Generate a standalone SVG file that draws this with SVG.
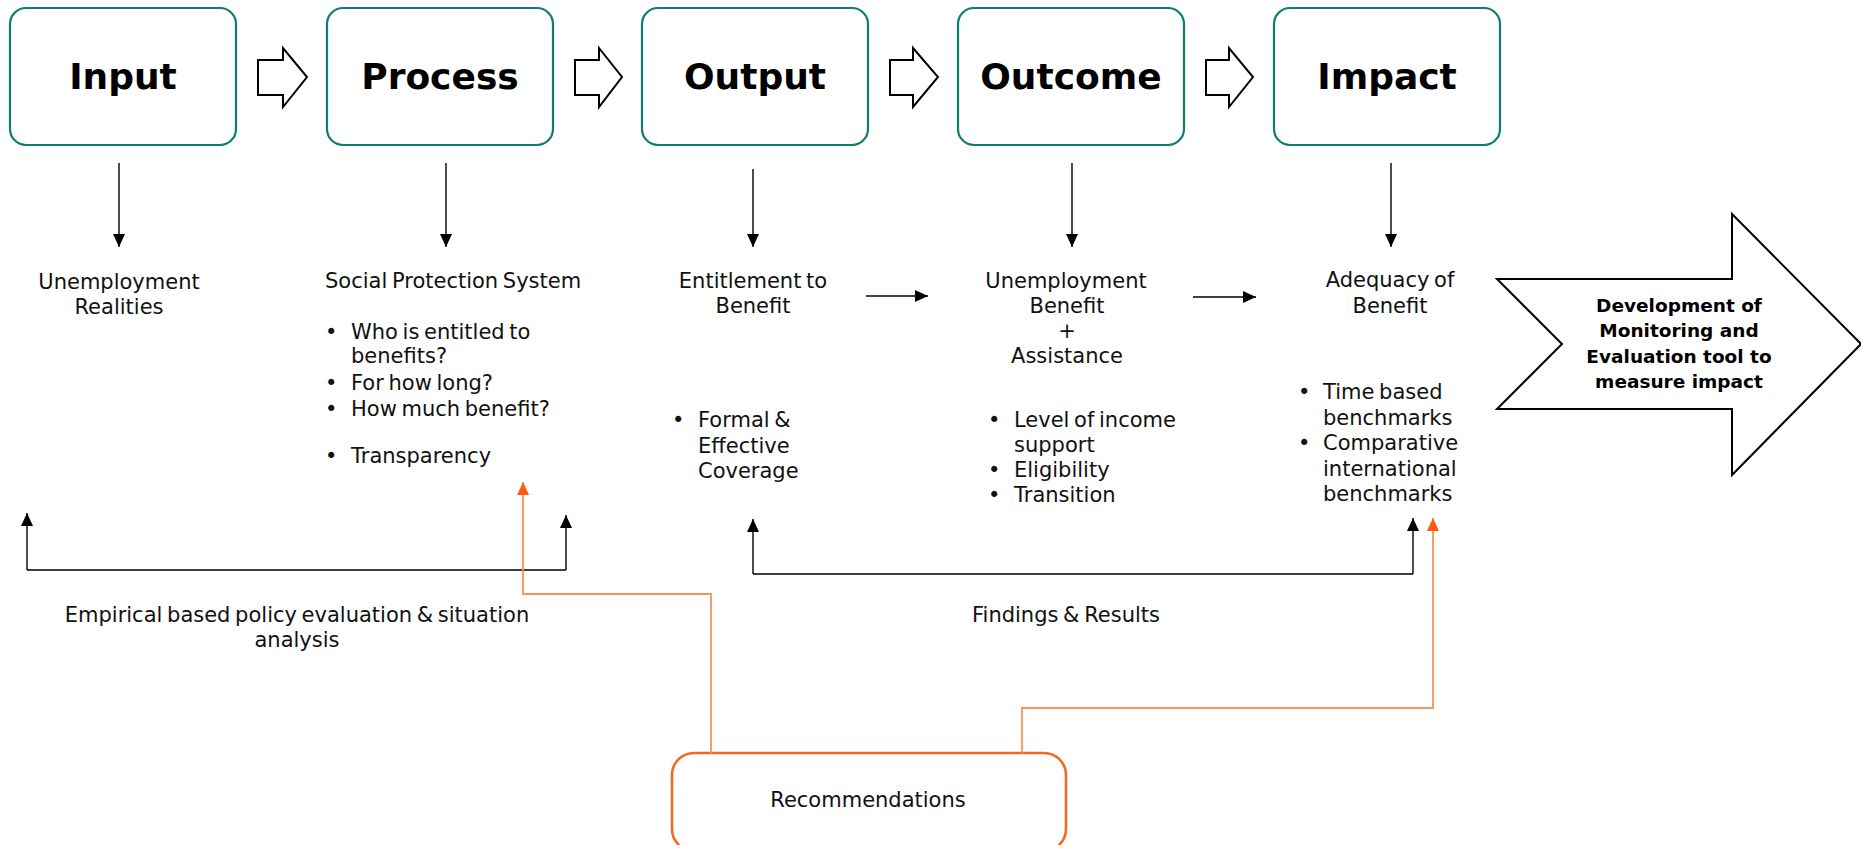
<svg xmlns="http://www.w3.org/2000/svg" width="1861" height="845" viewBox="0 0 1861 845">
  <style>
    .box { fill: #ffffff; stroke: #0f7d70; stroke-width: 2.2; }
    .title { font-family: "DejaVu Sans", "Liberation Sans", sans-serif; font-weight: bold; font-size: 36px; fill: #000; text-anchor: middle; }
    .txt { font-family: "DejaVu Sans", "Liberation Sans", sans-serif; font-size: 21px; fill: #111; word-spacing: -2px; }
    .c { text-anchor: middle; }
    .bold { font-family: "DejaVu Sans", "Liberation Sans", sans-serif; font-weight: bold; font-size: 18.5px; fill: #000; text-anchor: middle; }
    .blk { fill: #ffffff; stroke: #000; stroke-width: 2; stroke-linejoin: miter; }
    .ln { fill: none; stroke: #000; stroke-width: 1.4; }
    .or { fill: none; stroke: #f7935a; stroke-width: 1.8; }
    .recbox { fill: #ffffff; stroke: #f26a21; stroke-width: 2.6; }
  </style>
  <defs>
    <marker id="ah" markerUnits="userSpaceOnUse" markerWidth="13" markerHeight="12" refX="13" refY="6" orient="auto">
      <path d="M0,0 L13,6 L0,12 z" fill="#000"/>
    </marker>
    <marker id="aho" markerUnits="userSpaceOnUse" markerWidth="13" markerHeight="12" refX="13" refY="6" orient="auto">
      <path d="M0,0 L13,6 L0,12 z" fill="#ff5b0a"/>
    </marker>
  </defs>

  <g id="node-input">
    <rect class="box" x="10" y="8" width="226" height="137" rx="16"/>
    <text class="title" x="123" y="89">Input</text>
  </g>
  <g id="node-process">
    <rect class="box" x="327" y="8" width="226" height="137" rx="16"/>
    <text class="title" x="440" y="89">Process</text>
  </g>
  <g id="node-output">
    <rect class="box" x="642" y="8" width="226" height="137" rx="16"/>
    <text class="title" x="755" y="89">Output</text>
  </g>
  <g id="node-outcome">
    <rect class="box" x="958" y="8" width="226" height="137" rx="16"/>
    <text class="title" x="1071" y="89">Outcome</text>
  </g>
  <g id="node-impact">
    <rect class="box" x="1274" y="8" width="226" height="137" rx="16"/>
    <text class="title" x="1387" y="89">Impact</text>
  </g>

  <g id="block-arrows">
    <path class="blk" d="M258,60 H283 V48 L307,77 L283,107 V95 H258 Z"/>
    <path class="blk" d="M575,60 H599 V48 L622,77 L599,107 V95 H575 Z"/>
    <path class="blk" d="M890,60 H913 V48 L938,77 L913,107 V95 H890 Z"/>
    <path class="blk" d="M1206,60 H1229 V48 L1253,77 L1229,107 V95 H1206 Z"/>
  </g>

  <g id="node-unemployment-realities">
    <text class="txt c" x="119" y="289">Unemployment</text>
    <text class="txt c" x="119" y="314">Realities</text>
  </g>

  <g id="node-social-protection">
    <text class="txt" x="325" y="288">Social Protection System</text>
    <text class="txt" x="325" y="339">•</text><text class="txt" x="351" y="339">Who is entitled to</text>
    <text class="txt" x="351" y="363">benefits?</text>
    <text class="txt" x="325" y="390">•</text><text class="txt" x="351" y="390">For how long?</text>
    <text class="txt" x="325" y="416">•</text><text class="txt" x="351" y="416">How much benefit?</text>
    <text class="txt" x="325" y="463">•</text><text class="txt" x="351" y="463">Transparency</text>
  </g>

  <g id="node-entitlement">
    <text class="txt c" x="753" y="288">Entitlement to</text>
    <text class="txt c" x="753" y="313">Benefit</text>
    <text class="txt" x="672" y="427">•</text><text class="txt" x="698" y="427">Formal &amp;</text>
    <text class="txt" x="698" y="453">Effective</text>
    <text class="txt" x="698" y="478">Coverage</text>
  </g>

  <g id="node-unemployment-benefit">
    <text class="txt c" x="1066" y="288">Unemployment</text>
    <text class="txt c" x="1067" y="313">Benefit</text>
    <text class="txt c" x="1067" y="338">+</text>
    <text class="txt c" x="1067" y="363">Assistance</text>
    <text class="txt" x="988" y="427">•</text><text class="txt" x="1014" y="427">Level of income</text>
    <text class="txt" x="1014" y="452">support</text>
    <text class="txt" x="988" y="477">•</text><text class="txt" x="1014" y="477">Eligibility</text>
    <text class="txt" x="988" y="502">•</text><text class="txt" x="1014" y="502">Transition</text>
  </g>

  <g id="node-adequacy">
    <text class="txt c" x="1390" y="287">Adequacy of</text>
    <text class="txt c" x="1390" y="313">Benefit</text>
    <text class="txt" x="1298" y="399">•</text><text class="txt" x="1323" y="399">Time based</text>
    <text class="txt" x="1323" y="425">benchmarks</text>
    <text class="txt" x="1298" y="450">•</text><text class="txt" x="1323" y="450">Comparative</text>
    <text class="txt" x="1323" y="476">international</text>
    <text class="txt" x="1323" y="501">benchmarks</text>
  </g>

  <g id="node-development">
    <path class="blk" d="M1497,279 H1732 V214 L1861,344 L1732,475 V409 H1497 L1562,344 Z"/>
    <text class="bold" x="1679" y="312">Development of</text>
    <text class="bold" x="1679" y="337">Monitoring and</text>
    <text class="bold" x="1679" y="363">Evaluation tool to</text>
    <text class="bold" x="1679" y="388">measure impact</text>
  </g>

  <g id="label-empirical">
    <text class="txt c" x="297" y="622">Empirical based policy evaluation &amp; situation</text>
    <text class="txt c" x="297" y="647">analysis</text>
  </g>

  <g id="label-findings">
    <text class="txt c" x="1066" y="622">Findings &amp; Results</text>
  </g>

  <g id="node-recommendations">
    <rect class="recbox" x="672" y="753" width="394" height="98" rx="22"/>
    <text class="txt c" x="868" y="807">Recommendations</text>
  </g>

  <g id="connectors">
    <line class="ln" x1="119" y1="163" x2="119" y2="247" marker-end="url(#ah)"/>
    <line class="ln" x1="446" y1="163" x2="446" y2="247" marker-end="url(#ah)"/>
    <line class="ln" x1="753" y1="169" x2="753" y2="247" marker-end="url(#ah)"/>
    <line class="ln" x1="1072" y1="163" x2="1072" y2="247" marker-end="url(#ah)"/>
    <line class="ln" x1="1391" y1="163" x2="1391" y2="247" marker-end="url(#ah)"/>

    <line class="ln" x1="866" y1="296" x2="928" y2="296" marker-end="url(#ah)"/>
    <line class="ln" x1="1193" y1="297" x2="1256" y2="297" marker-end="url(#ah)"/>

    <line class="ln" x1="27" y1="570" x2="566" y2="570"/>
    <line class="ln" x1="27" y1="570" x2="27" y2="513" marker-end="url(#ah)"/>
    <line class="ln" x1="566" y1="570" x2="566" y2="515" marker-end="url(#ah)"/>

    <line class="ln" x1="753" y1="574" x2="1413" y2="574"/>
    <line class="ln" x1="753" y1="574" x2="753" y2="519" marker-end="url(#ah)"/>
    <line class="ln" x1="1413" y1="574" x2="1413" y2="518" marker-end="url(#ah)"/>

    <path class="or" d="M711,753 V594 H523 V482" marker-end="url(#aho)"/>
    <path class="or" d="M1022,753 V708 H1433 V518" marker-end="url(#aho)"/>
  </g>
</svg>
